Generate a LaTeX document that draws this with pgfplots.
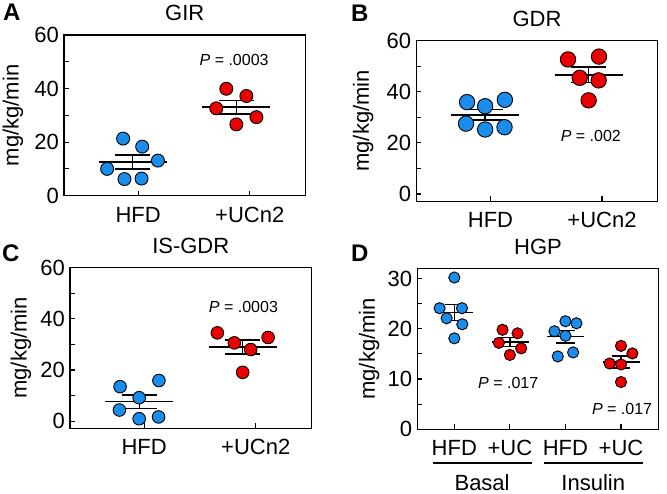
\documentclass[border=0pt]{standalone}
\usepackage{fontspec}
\setmainfont{Liberation Sans}
\usepackage{pgfplots}
\pgfplotsset{compat=1.18}

\definecolor{dblue}{RGB}{26,140,235}
\definecolor{dred}{RGB}{235,0,0}
\newcommand{\fs}[1]{\fontsize{#1}{#1}\selectfont}

\pgfplotsset{
  panel/.style={
    scale only axis, anchor=south west, clip=false,
    width=241.5pt, height=160.8pt,
    axis line style={line width=1.3pt},
    tick style={line width=1.1pt, black},
    major tick length=5pt, minor tick length=5pt,
    tick pos=left, tick align=inside,
    /pgf/number format/assume math mode=true,
    tick label style={font=\fs{22}},
    yticklabel style={inner sep=0pt, xshift=-5pt},
    xticklabel style={inner sep=0pt, yshift=-11pt},
    title style={font=\fs{22}, inner sep=0pt, anchor=south, at={(axis description cs:0.5,1)}, yshift=7.5pt},
    ylabel style={font=\fs{22}, anchor=center},
    ylabel={mg/kg/min},
  },
  two/.style={
    xmin=0.335, xmax=2.5, xtick={1,2}, xticklabels={HFD,+UCn2},
    ymax=60, ytick={0,20,40,60}, minor ytick={10,30,50},
  },
  bluepts/.style={only marks, mark=*, mark size=#1, mark options={fill=dblue, draw=black, line width=0.9pt}},
  redpts/.style={only marks, mark=*, mark size=#1, mark options={fill=dred, draw=black, line width=0.9pt}},
  ml/.style={black, line width=1.3pt, no marks},
}

\begin{document}
\begin{tikzpicture}
\useasboundingbox (0,0) rectangle (667pt,494pt);

% ---------------- A: GIR
\begin{axis}[panel, two, at={(64pt,298.3pt)}, ymin=0, title={GIR},
  ylabel style={at={(axis description cs:-0.2112,0.5)}}]
\addplot[bluepts=6.5pt] coordinates {(0.865,21.3) (1.036,18.3) (1.177,13.1) (0.722,10.0) (0.877,6.2) (1.03,6.4)};
\addplot[redpts=6.5pt] coordinates {(1.79,39.9) (1.97,37.2) (1.70,32.6) (2.06,29.3) (1.88,26.6)};
\addplot[ml] coordinates {(0.648,12.6) (1.256,12.6)};
\addplot[ml] coordinates {(0.795,15.2) (1.109,15.2)};
\addplot[ml] coordinates {(0.795,10.0) (1.109,10.0)};
\addplot[ml] coordinates {(0.952,10.0) (0.952,15.2)};
\addplot[ml] coordinates {(1.576,33.1) (2.184,33.1)};
\addplot[ml] coordinates {(1.723,35.6) (2.037,35.6)};
\addplot[ml] coordinates {(1.723,30.5) (2.037,30.5)};
\addplot[ml] coordinates {(1.88,30.5) (1.88,35.6)};
\node[font=\fs{16}] at (axis cs:1.86,50.6) {\textit{P} = .0003};
\end{axis}

% ---------------- B: GDR
\begin{axis}[panel, two, at={(416.3pt,292.7pt)}, ymin=-2.87, title={GDR},
  ylabel style={at={(axis description cs:-0.2195,0.5)}}]
\addplot[bluepts=7.7pt] coordinates {(0.79,35.9) (0.952,34.3) (1.129,36.8) (0.781,27.5) (0.952,25.2) (1.126,26.1)};
\addplot[redpts=7.7pt] coordinates {(1.695,52.6) (1.973,53.7) (1.80,45.4) (1.97,44.4) (1.88,36.6)};
\addplot[ml] coordinates {(0.647,30.9) (1.257,30.9)};
\addplot[ml] coordinates {(0.795,32.9) (1.109,32.9)};
\addplot[ml] coordinates {(0.795,28.9) (1.109,28.9)};
\addplot[ml] coordinates {(0.952,28.9) (0.952,32.9)};
\addplot[ml] coordinates {(1.576,46.5) (2.184,46.5)};
\addplot[ml] coordinates {(1.723,49.6) (2.037,49.6)};
\addplot[ml] coordinates {(1.723,43.5) (2.037,43.5)};
\addplot[ml] coordinates {(1.88,43.5) (1.88,49.6)};
\node[font=\fs{16}] at (axis cs:1.90,22.8) {\textit{P} = .002};
\end{axis}

% ---------------- C: IS-GDR
\begin{axis}[panel, two, at={(70pt,65.7pt)}, ymin=-2.73, title={IS-GDR},
  ylabel style={at={(axis description cs:-0.2029,0.5)}}]
\addplot[bluepts=6.3pt] coordinates {(0.784,13.5) (1.132,15.9) (0.955,9.2) (0.778,4.4) (0.955,1.0) (1.129,1.7)};
\addplot[redpts=6.3pt] coordinates {(1.656,34.5) (1.808,30.6) (2.111,32.7) (1.955,28.0) (1.883,19.1)};
\addplot[ml] coordinates {(0.65,7.7) (1.26,7.7)};
\addplot[ml] coordinates {(0.798,10.3) (1.112,10.3)};
\addplot[ml] coordinates {(0.798,5.1) (1.112,5.1)};
\addplot[ml] coordinates {(0.955,5.1) (0.955,10.3)};
\addplot[ml] coordinates {(1.578,29.0) (2.188,29.0)};
\addplot[ml] coordinates {(1.726,31.7) (2.04,31.7)};
\addplot[ml] coordinates {(1.726,26.2) (2.04,26.2)};
\addplot[ml] coordinates {(1.883,26.2) (1.883,31.7)};
\node[font=\fs{16}] at (axis cs:1.89,44.4) {\textit{P} = .0003};
\end{axis}

% ---------------- D: HGP
\begin{axis}[panel, at={(417.3pt,64.7pt)}, title={HGP},
  xmin=0.334, xmax=4.68, xtick={1,2,3,4}, xticklabels={HFD,+UC,HFD,+UC},
  ymin=0, ymax=32, ytick={0,10,20,30}, minor ytick={5,15,25},
  ylabel style={at={(axis description cs:-0.1988,0.5)}}]
\addplot[bluepts=5.6pt] coordinates {(1,30.2) (0.736,24.1) (1.138,24.1) (0.862,22.1) (1.144,20.9) (1,18.1)};
\addplot[redpts=5.6pt] coordinates {(1.868,19.8) (2.138,19.1) (1.802,17.2) (2.204,16.1) (2.0,14.8)};
\addplot[bluepts=5.6pt] coordinates {(3,21.5) (3.198,21.1) (2.802,19.5) (3,18.6) (3.138,15.3) (2.862,14.5)};
\addplot[redpts=5.6pt] coordinates {(4,16.6) (4.204,15.1) (3.796,13.1) (4,12.9) (4,9.4)};
\addplot[ml] coordinates {(0.67,23.3) (1.34,23.3)};
\addplot[ml] coordinates {(0.83,24.9) (1.17,24.9)};
\addplot[ml] coordinates {(0.83,21.7) (1.17,21.7)};
\addplot[ml] coordinates {(1,21.7) (1,24.9)};
\addplot[ml] coordinates {(1.67,17.4) (2.34,17.4)};
\addplot[ml] coordinates {(1.83,18.3) (2.17,18.3)};
\addplot[ml] coordinates {(1.83,16.5) (2.17,16.5)};
\addplot[ml] coordinates {(2.0,16.5) (2.0,18.3)};
\addplot[ml] coordinates {(2.67,18.4) (3.34,18.4)};
\addplot[ml] coordinates {(2.83,19.6) (3.17,19.6)};
\addplot[ml] coordinates {(2.83,17.2) (3.17,17.2)};
\addplot[ml] coordinates {(3,17.2) (3,19.6)};
\addplot[ml] coordinates {(3.67,13.4) (4.34,13.4)};
\addplot[ml] coordinates {(3.83,14.6) (4.17,14.6)};
\addplot[ml] coordinates {(3.83,12.2) (4.17,12.2)};
\addplot[ml] coordinates {(4,12.2) (4,14.6)};
\node[font=\fs{16}] at (axis cs:1.97,9.3) {\textit{P} = .017};
\node[font=\fs{16}] at (axis cs:4.02,4.0) {\textit{P} = .017};
\draw[line width=1.3pt] (axis cs:0.611,-6.71) -- (axis cs:2.393,-6.71);
\draw[line width=1.3pt] (axis cs:2.614,-6.71) -- (axis cs:4.39,-6.71);
\node[anchor=base, inner sep=0pt, font=\fs{22}] at (axis cs:1.5,-12.2) {Basal};
\node[anchor=base, inner sep=0pt, font=\fs{22}] at (axis cs:3.5,-12.2) {Insulin};
\end{axis}

% panel letters
\node[anchor=base west, inner sep=0pt, font=\fs{24}\bfseries] at (3pt,473.3pt) {A};
\node[anchor=base west, inner sep=0pt, font=\fs{24}\bfseries] at (351pt,472.3pt) {B};
\node[anchor=base west, inner sep=0pt, font=\fs{24}\bfseries] at (2pt,232pt) {C};
\node[anchor=base west, inner sep=0pt, font=\fs{24}\bfseries] at (351pt,232pt) {D};
\end{tikzpicture}
\end{document}
